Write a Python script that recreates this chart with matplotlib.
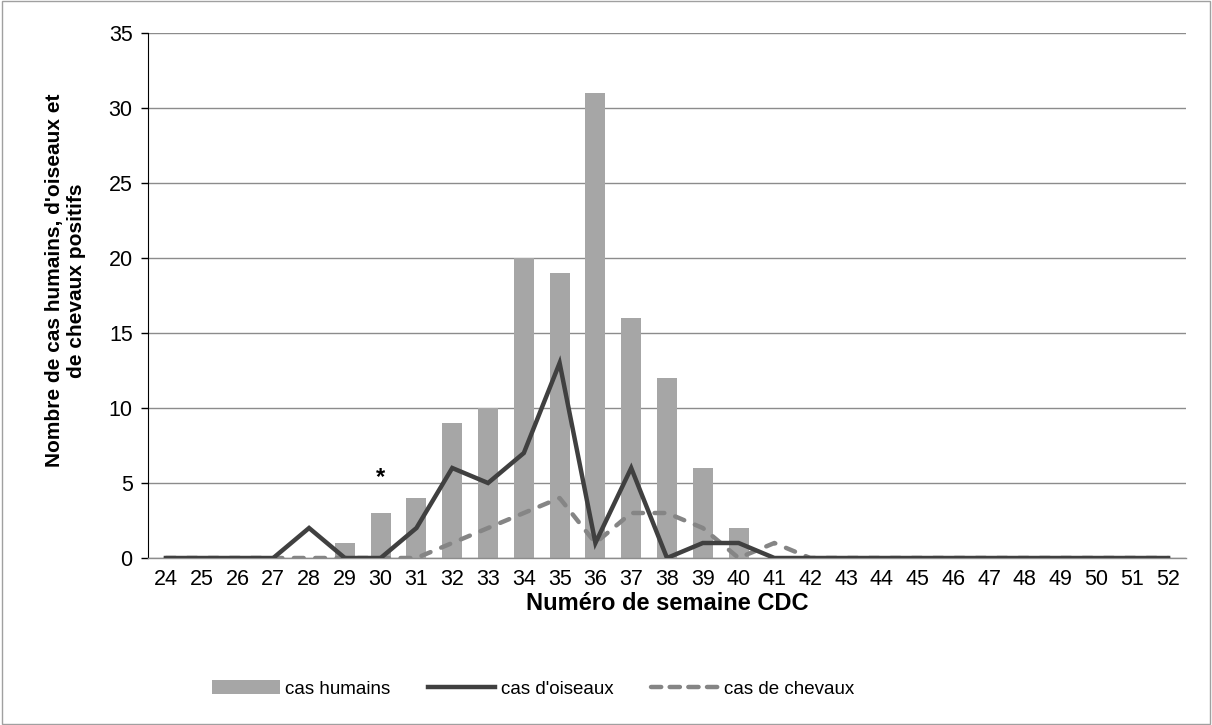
import matplotlib
matplotlib.use("Agg")
import matplotlib.pyplot as plt
from matplotlib.lines import Line2D
from matplotlib.patches import Patch, Rectangle
import numpy as np

plt.rcParams['font.family'] = ['Liberation Sans', 'DejaVu Sans']

weeks = list(range(24, 53))
humans = [0, 0, 0, 0, 0, 1, 3, 4, 9, 10, 20, 19, 31, 16, 12, 6, 2, 0, 0, 0, 0, 0, 0, 0, 0, 0, 0, 0, 0]
birds = [0, 0, 0, 0, 2, 0, 0, 2, 6, 5, 7, 13, 1, 6, 0, 1, 1, 0, 0, 0, 0, 0, 0, 0, 0, 0, 0, 0, 0]
horses = [0, 0, 0, 0, 0, 0, 0, 0, 1, 2, 3, 4, 1, 3, 3, 2, 0, 1, 0, 0, 0, 0, 0, 0, 0, 0, 0, 0, 0]

fig = plt.figure(figsize=(12.12, 7.25), dpi=100)
ax = fig.add_axes([148/1212, 1-558/725, (1186-148)/1212, (558-33)/725])

x = np.arange(len(weeks))
ax.bar(x, humans, width=0.56, color='#A6A6A6', zorder=2, label='cas humains')
ax.plot(x, birds, color='#404040', lw=3.2, zorder=4, solid_joinstyle='miter', label="cas d'oiseaux")
ax.plot(x, horses, color='#858585', lw=3.2, zorder=3, dashes=(2.2, 2.6), dash_capstyle='round', label='cas de chevaux')

ax.set_xlim(-0.5, len(weeks) - 0.5)
ax.set_ylim(0, 35)
ax.set_yticks(range(0, 36, 5))
ax.set_xticks(x)
ax.set_xticklabels([str(w) for w in weeks])
ax.tick_params(axis='x', length=0, labelsize=15.5, pad=8)
ax.tick_params(axis='y', length=5, width=1, direction='out', labelsize=15.5, pad=6)
ax.yaxis.grid(True, color='#8C8C8C', lw=1, zorder=0)
ax.set_axisbelow(True)
for s in ['top', 'right']:
    ax.spines[s].set_visible(False)
ax.spines['left'].set_color('black')
ax.spines['bottom'].set_color('#8C8C8C')
ax.spines['bottom'].set_linewidth(1)

ax.text(x[weeks.index(30)], 4.6, '*', ha='center', va='bottom', fontsize=17, fontweight='bold')

ax.set_xlabel('Numéro de semaine CDC', fontsize=17, fontweight='bold', labelpad=1)
ax.set_ylabel("Nombre de cas humains, d'oiseaux et\nde chevaux positifs", fontsize=15, fontweight='bold', labelpad=16)
ax.yaxis.label.set_y(0.529)

handles = [Patch(facecolor='#A6A6A6'),
           Line2D([], [], color='#404040', lw=3.2),
           Line2D([], [], color='#858585', lw=3.2, dashes=(2.3, 1.9), dash_capstyle='round')]
fig.legend(handles, ['cas humains', "cas d'oiseaux", 'cas de chevaux'], loc='center',
           bbox_to_anchor=(0.44, 1-689/725), ncol=3, frameon=False, fontsize=13.5,
           handlelength=3.6, handletextpad=0.3, columnspacing=2.0)

fig.patches.append(Rectangle((0.002, 0.002), 0.996, 0.996, transform=fig.transFigure,
                             fill=False, edgecolor='#A0A0A0', lw=1))

fig.savefig('out.png', dpi=100)
